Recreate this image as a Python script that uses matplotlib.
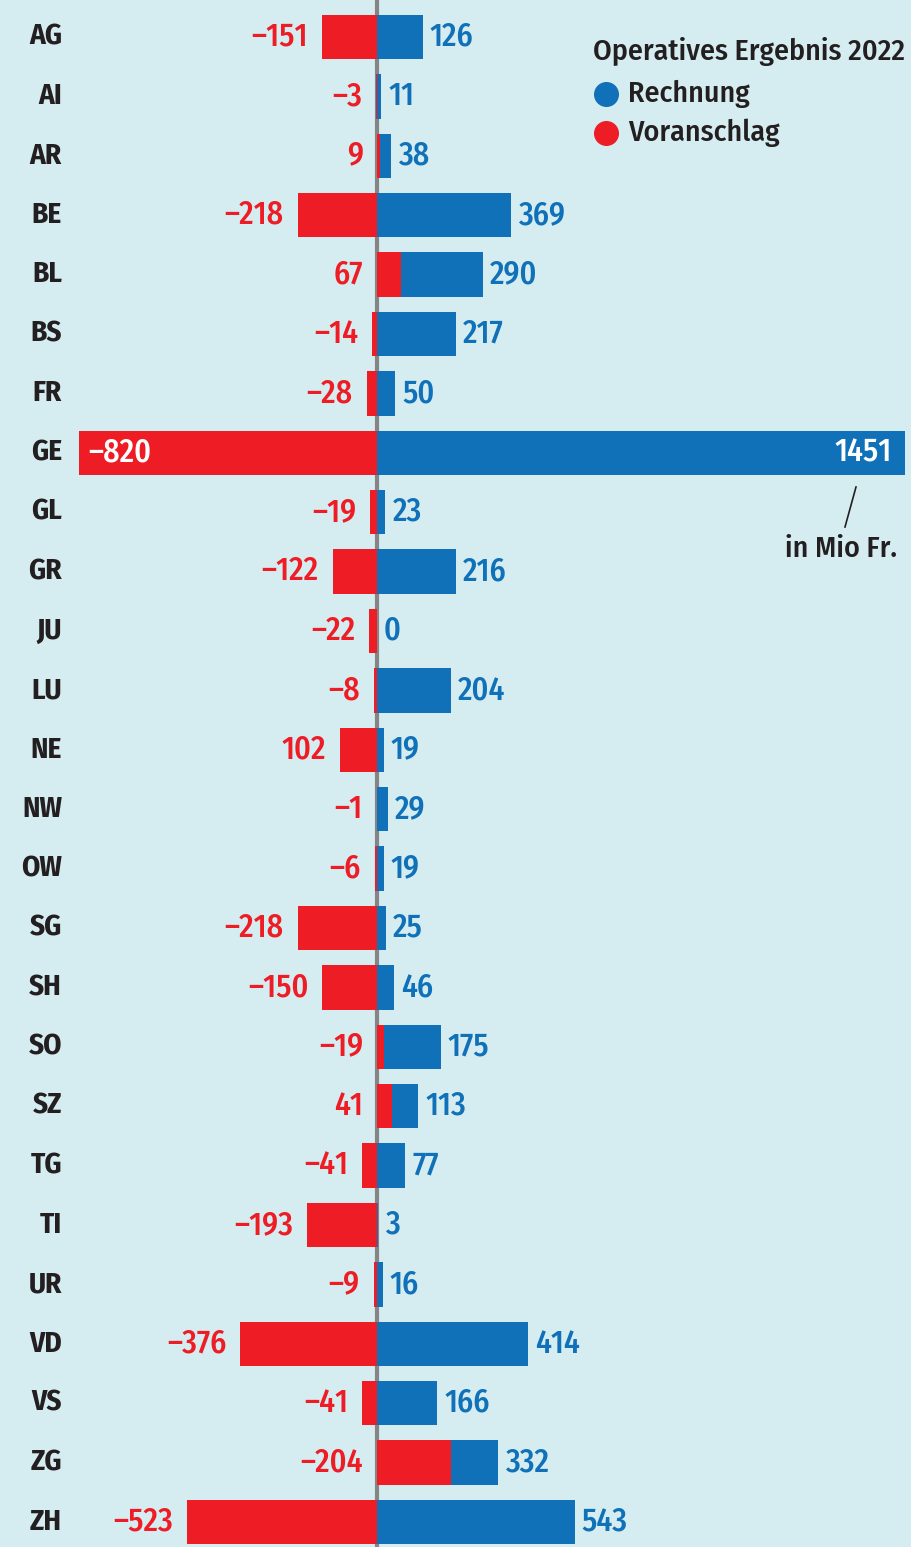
import matplotlib.pyplot as plt
import matplotlib.transforms as mtransforms
from matplotlib import font_manager

cantons = ["AG", "AI", "AR", "BE", "BL", "BS", "FR", "GE", "GL", "GR", "JU", "LU", "NE",
           "NW", "OW", "SG", "SH", "SO", "SZ", "TG", "TI", "UR", "VD", "VS", "ZG", "ZH"]
rechnung = [126, 11, 38, 369, 290, 217, 50, 1451, 23, 216, 0, 204, 19,
            29, 19, 25, 46, 175, 113, 77, 3, 16, 414, 166, 332, 543]
# Voranschlag bars as drawn in the source graphic
voranschlag = [-151, -3, 9, -218, 67, -14, -28, -820, -19, -122, -22, -8, -102,
               -1, -6, -218, -150, 19, 41, -41, -193, -9, -376, -41, 204, -523]
# Voranschlag labels as printed in the source graphic
voranschlag_labels = ["–151", "–3", "9", "–218", "67", "–14", "–28", "–820", "–19", "–122",
                      "–22", "–8", "102", "–1", "–6", "–218", "–150", "–19", "41", "–41",
                      "–193", "–9", "–376", "–41", "–204", "–523"]

BG = "#d5edf1"
BLUE = "#1071b9"
RED = "#ee1c25"
DARK = "#231f20"

names = {f.name for f in font_manager.fontManager.ttflist}
FONT = "DejaVu Sans"
for cand in ["Fira Sans Condensed", "Roboto Condensed", "Barlow Semi Condensed",
             "Archivo Narrow", "Liberation Sans Narrow"]:
    if cand in names:
        FONT = cand
        break
plt.rcParams["font.family"] = [FONT, "DejaVu Sans"]

fig = plt.figure(figsize=(9.12, 15.47), dpi=100, facecolor=BG)
ax = fig.add_axes([0, 0, 1, 1])
ax.set_facecolor(BG)

scale = 528 / 1451  # px per unit
ax.set_xlim(-377 / scale, (912 - 377) / scale)
y0, step = 37, 59.4
ax.set_ylim((1547 - y0) / step, -y0 / step)
ax.axis("off")

ax.axvline(0, color="#858585", lw=3, zorder=1)

ypos = list(range(len(cantons)))
ax.barh(ypos, rechnung, height=0.75, color=BLUE, zorder=2)
ax.barh(ypos, voranschlag, height=0.75, color=RED, zorder=3)

def shifted(dx):
    return mtransforms.offset_copy(ax.transData, fig=fig, x=dx, y=0, units="dots")

fs = 23
for i, c in enumerate(cantons):
    fig.text(62 / 912, 1 - (y0 + step * i) / 1547, c, ha="right", va="center",
             fontsize=21, fontweight="bold", color=DARK)
    b, r = rechnung[i], voranschlag[i]
    if c == "GE":
        ax.text(r, i, voranschlag_labels[i], transform=shifted(10), ha="left", va="center",
                fontsize=fs, fontweight="medium", color="white")
        ax.text(b, i, str(b), transform=shifted(-13), ha="right", va="center",
                fontsize=fs, fontweight="medium", color="white")
        continue
    right_end = max(b, r, 0)
    ax.text(right_end, i, str(b), transform=shifted(7), ha="left", va="center",
            fontsize=fs, fontweight="medium", color=BLUE)
    left_end = min(r, 0)
    ax.text(left_end, i, voranschlag_labels[i], transform=shifted(-14), ha="right",
            va="center", fontsize=fs, fontweight="medium", color=RED)

# legend
fig.text(593 / 912, 1 - 52 / 1547, "Operatives Ergebnis 2022", ha="left", va="center",
         fontsize=21.5, fontweight="medium", color=DARK)
for yy, col, lab in [(94, BLUE, "Rechnung"), (133, RED, "Voranschlag")]:
    fig.add_artist(plt.Line2D([606 / 912], [1 - yy / 1547], marker="o", markersize=17,
                              color=col, linestyle="none", transform=fig.transFigure))
    fig.text(628 / 912, 1 - yy / 1547, lab, ha="left", va="center", fontsize=21.5,
             fontweight="medium", color=DARK)

# unit note
fig.add_artist(plt.Line2D([856 / 912, 845 / 912], [1 - 487 / 1547, 1 - 527 / 1547],
                          color=DARK, lw=1.2, transform=fig.transFigure))
fig.text(897 / 912, 1 - 549 / 1547, "in Mio Fr.", ha="right", va="center",
         fontsize=21.5, fontweight="medium", color=DARK)

fig.savefig("out.png", dpi=100, facecolor=BG)
